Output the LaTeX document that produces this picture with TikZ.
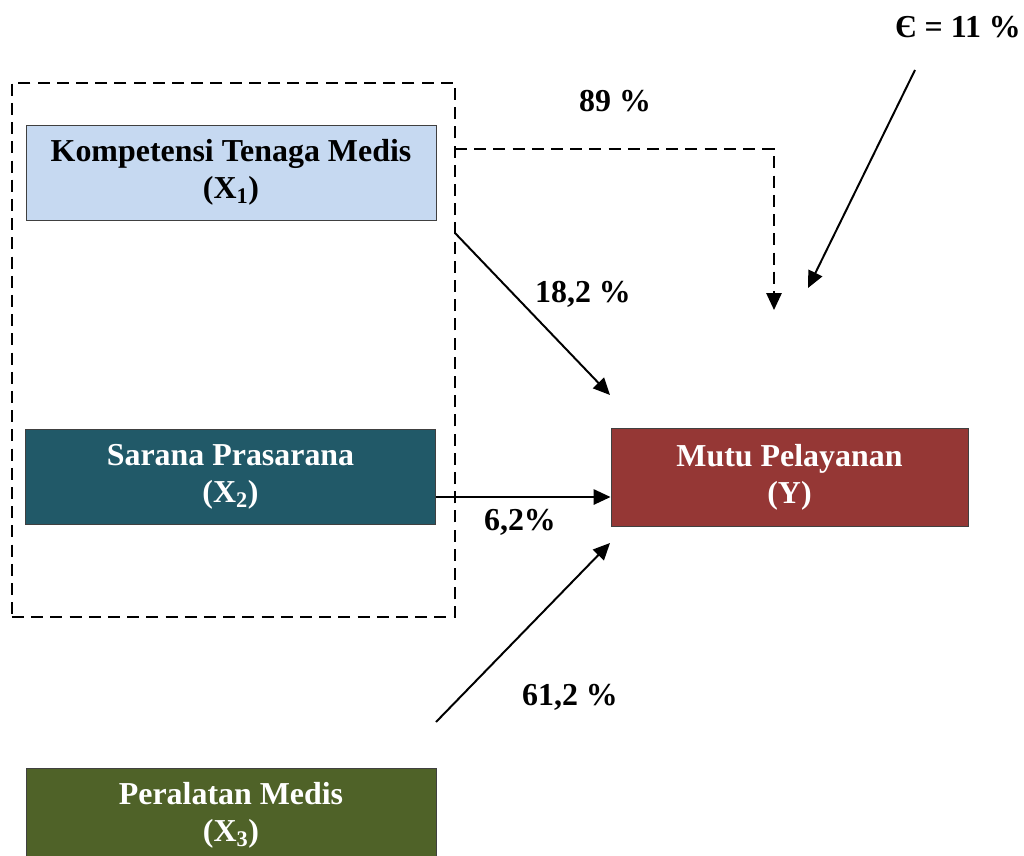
\documentclass[tikz,border=0pt]{standalone}
\usepackage{fontspec}
\setmainfont{Liberation Serif}
\usetikzlibrary{arrows.meta}
\definecolor{KompColor}{RGB}{198, 217, 241}
\definecolor{SaranaColor}{RGB}{33, 89, 104}
\definecolor{AlatColor}{RGB}{79, 98, 40}
\definecolor{MutuColor}{RGB}{149, 55, 53}
\newcommand{\boxfont}{\fontsize{22.7}{26.5}\selectfont\bfseries}

\begin{document}
\begin{tikzpicture}[
    x=0.025cm, y=-0.025cm,
    var/.style={
        draw=black!75, line width=0.6pt, align=center,
        minimum width=10.25cm, minimum height=2.375cm,
        font=\boxfont, inner sep=0pt
    },
    pct/.style={font=\boxfont, inner sep=0pt},
    arr/.style={-{Triangle[length=0.42cm, width=0.38cm]}, line width=1.4pt},
    dasharr/.style={arr, line width=1.2pt, dash pattern=on 0.3cm off 0.18cm},
]
\useasboundingbox (0,0) rectangle (1024,855);

%% Independent variables
\node[var, fill=KompColor] (x1) at (231, 172.5)
    {Kompetensi Tenaga Medis\\(X\textsubscript{1})};
\node[var, fill=SaranaColor, text=white] (x2) at (230.5, 477)
    {Sarana Prasarana\\(X\textsubscript{2})};
\node[var, fill=AlatColor, text=white] (x3) at (231, 815.5)
    {Peralatan Medis\\(X\textsubscript{3})};

%% Dashed group round X1, X2
\node[draw, line width=1.2pt, dash pattern=on 0.3cm off 0.18cm,
      minimum width=11.075cm, minimum height=13.35cm] (grp) at (233.5, 350) {};

%% Dependent variable
\node[var, fill=MutuColor, text=white, minimum width=8.925cm,
      minimum height=2.45cm] (y) at (789.5, 477)
    {Mutu Pelayanan\\(Y)};

%% Connector ends
\coordinate (s89) at (455, 149);
\coordinate (e89) at (774, 310);
\coordinate (s18) at (455, 233);
\coordinate (e18) at (610, 395);
\coordinate (s61) at (436, 722);
\coordinate (e61) at (610, 543);
\coordinate (seps) at (915, 70);
\coordinate (eeps) at (808, 288);

%% Connectors
\draw[dasharr] (s89) -| (e89);
\draw[arr] (s18) -- (e18);
\draw[arr] ([yshift=-0.5cm]x2.east) -- ([yshift=-0.5cm]y.west);
\draw[arr] (s61) -- (e61);
\draw[arr] (seps) -- (eeps);

%% Labels
\node[pct] (l89) at (615, 101) {89 \%};
\node[pct] (l18) at (583, 294) {18,2 \%};
\node[pct] (l6) at (520, 522) {6,2\%};
\node[pct] (l61) at (570, 697) {61,2 \%};
\node[pct] (leps) at (958, 27) {Є = 11 \%};

\end{tikzpicture}
\end{document}
